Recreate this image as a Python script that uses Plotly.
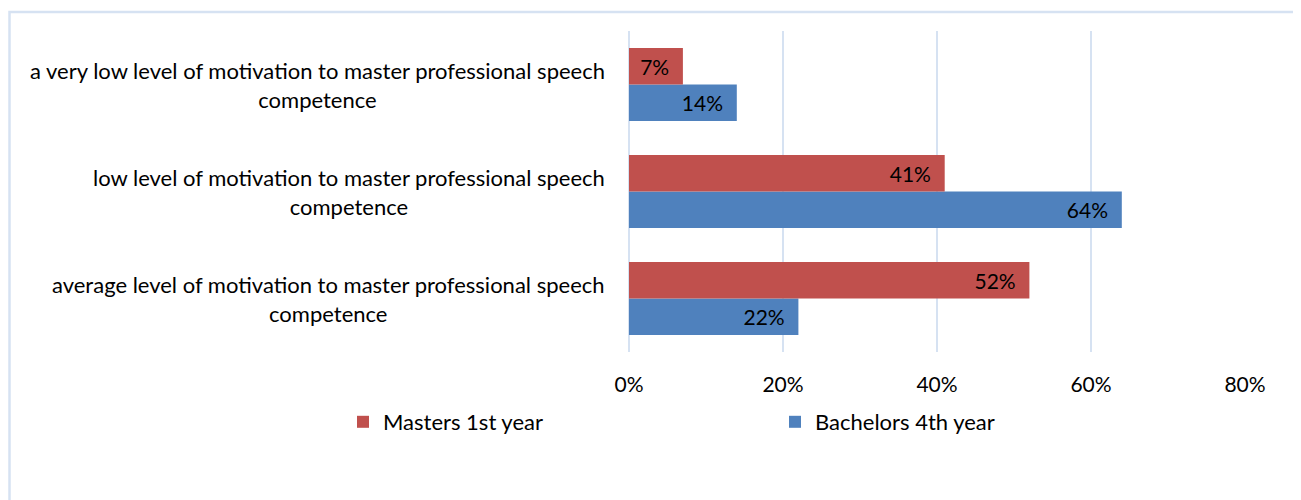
import plotly.graph_objects as go

categories = [
    "average level of motivation to master professional speech<br>competence",
    "low level of motivation to master professional speech<br>competence",
    "a very low level of motivation to master professional speech<br>competence",
]
masters = [0.52, 0.41, 0.07]
bachelors = [0.22, 0.64, 0.14]
series_names = ["Masters 1st year", "Bachelors 4th year"]
tick_vals = [0, 0.2, 0.4, 0.6, 0.8]
tick_text = ["0%", "20%", "40%", "60%", "80%"]

FONT = "Lato"
OFF = 8  # page body margin
W, H = 1301 - OFF, 500 - OFF
# target plot area in page px: x 629..1245, y 31..352
ML = 629 - OFF
MR = W - (1245 - OFF)
MT = 31 - OFF
MB = H - (352 - OFF)
PW = W - ML - MR
PH = H - MT - MB

PAD = "\u00a0\u00a0"

fig = go.Figure()
fig.add_trace(go.Bar(
    y=categories, x=bachelors, orientation="h", name=series_names[1],
    marker=dict(color="#4F81BD", line=dict(width=0)),
    text=[f"{v*100:.0f}%{PAD}" for v in bachelors], textposition="inside",
    insidetextanchor="end", textfont=dict(color="black", size=21, family=FONT),
    cliponaxis=False,
))
fig.add_trace(go.Bar(
    y=categories, x=masters, orientation="h", name=series_names[0],
    marker=dict(color="#C0504D", line=dict(width=0)),
    text=[f"{v*100:.0f}%{PAD}" for v in masters], textposition="inside",
    insidetextanchor="end", textfont=dict(color="black", size=21, family=FONT),
    cliponaxis=False,
))

for c in categories:
    fig.add_annotation(
        x=0, xref="paper", y=c, yref="y", text=c, showarrow=False,
        xanchor="right", yanchor="middle", xshift=-22, align="center",
        font=dict(size=22, family=FONT, color="black"),
    )

fig.add_shape(type="rect", xref="paper", yref="paper",
              x0=(9.5 - 629) / PW, x1=(1340 - 629) / PW,
              y0=(352 - 540) / PH, y1=(352 - 12) / PH,
              line=dict(color="#D6E2F2", width=2.5), layer="below")

fig.update_layout(
    width=W, height=H,
    margin=dict(l=ML, r=MR, t=MT, b=MB),
    barmode="group", bargap=0.32, bargroupgap=0,
    plot_bgcolor="white", paper_bgcolor="white",
    font=dict(family=FONT, size=21, color="black"),
    xaxis=dict(range=[0, 0.8], tickvals=tick_vals, ticktext=tick_text,
               showgrid=True, gridcolor="#D6E2F2", gridwidth=2,
               zeroline=True, zerolinecolor="#D6E2F2", zerolinewidth=2,
               showline=False, ticks="", ticklabelstandoff=18,
               tickfont=dict(size=21, family=FONT)),
    yaxis=dict(showticklabels=False, showgrid=False, zeroline=False,
               showline=False, ticks=""),
    legend=dict(orientation="h", traceorder="reversed",
                x=(343 - 629) / PW, xanchor="left",
                y=(352 - 422) / PH, yanchor="middle",
                entrywidth=387, entrywidthmode="pixels",
                font=dict(size=22, family=FONT), itemwidth=30,
                bgcolor="rgba(0,0,0,0)"),
)

fig.write_html("out.html")
